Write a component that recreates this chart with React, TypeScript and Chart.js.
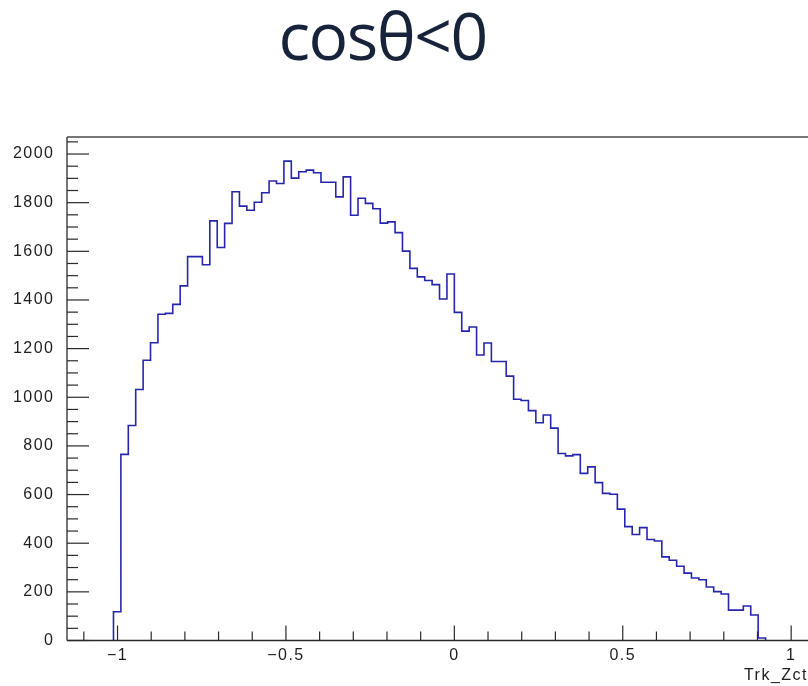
import React, { useEffect, useRef } from "react";
import { Chart, registerables } from "chart.js";

Chart.register(...registerables);

// ---- data ----
const TITLE = "cosθ<0";
const X_TITLE = "Trk_Zct";
const BIN_WIDTH = 0.022;
const FIRST_EDGE = -1.012;
const COUNTS = [
  118, 765, 884, 1032, 1152, 1224, 1341, 1345, 1382, 1458,
  1578, 1578, 1545, 1725, 1616, 1715, 1845, 1786, 1769, 1802,
  1841, 1889, 1879, 1971, 1901, 1927, 1934, 1923, 1884, 1884,
  1824, 1906, 1748, 1818, 1797, 1775, 1716, 1721, 1677, 1601,
  1530, 1495, 1480, 1463, 1404, 1507, 1349, 1272, 1289, 1174,
  1223, 1147, 1147, 1087, 992, 987, 945, 895, 927, 873,
  769, 759, 764, 687, 714, 649, 605, 601, 540, 468,
  436, 464, 415, 409, 344, 330, 305, 277, 257, 250,
  220, 201, 191, 125, 125, 142, 105, 10,
];
const X_MIN = -1.15;
const X_MAX = 1.05;
const Y_MIN = 0;
const Y_MAX = 2070;
const X_LABEL_TICKS = [-1, -0.5, 0, 0.5, 1];
const X_MINOR_TICKS = [-1.1, -1, -0.9, -0.8, -0.7, -0.6, -0.5, -0.4, -0.3, -0.2, -0.1, 0, 0.1, 0.2, 0.3, 0.4, 0.5, 0.6, 0.7, 0.8, 0.9, 1.0];
const Y_LABEL_TICKS = [0, 200, 400, 600, 800, 1000, 1200, 1400, 1600, 1800, 2000];
const Y_MINOR_STEP = 50;

const FONT = "'Liberation Sans', Arial, Helvetica, sans-serif";

function fmt(v: number): string {
  const r = Number(v.toFixed(3));
  if (r < 0) return "\u2212" + String(Math.abs(r));
  return String(r);
}

const frameTicks = {
  id: "frameTicks",
  beforeDraw(chart: any) {
    // ROOT's Helvetica labels are drawn a little wider than Liberation Sans
    (chart.ctx as any).letterSpacing = "1.5px";
  },
  afterDatasetsDraw(chart: any) {
    const { ctx, chartArea: a, scales } = chart;
    const x = scales.x;
    const y = scales.y;
    ctx.save();
    ctx.strokeStyle = "#2a2a2a";
    ctx.lineWidth = 1.3;
    const seg = (x1: number, y1: number, x2: number, y2: number) => {
      ctx.beginPath();
      ctx.moveTo(x1, y1);
      ctx.lineTo(x2, y2);
      ctx.stroke();
    };
    // frame: left, bottom, top
    seg(a.left, a.top, a.left, a.bottom);
    seg(a.left, a.bottom, a.right, a.bottom);
    ctx.strokeStyle = "#4a4a4a";
    seg(a.left, a.top, a.right, a.top);
    ctx.strokeStyle = "#2a2a2a";
    ctx.lineWidth = 1.2;
    // y ticks (inward)
    for (let v = Y_MIN; v <= Y_MAX; v += Y_MINOR_STEP) {
      const py = y.getPixelForValue(v);
      const major = Y_LABEL_TICKS.includes(v);
      seg(a.left, py, a.left + (major ? 22 : 11), py);
    }
    // x ticks (inward)
    for (const v of X_MINOR_TICKS) {
      const px = x.getPixelForValue(v);
      const major = X_LABEL_TICKS.some((t) => Math.abs(t - v) < 1e-6);
      seg(px, a.bottom, px, a.bottom - (major ? 15 : 9));
    }
    ctx.restore();
  },
};

export default function App() {
  const canvasRef = useRef<HTMLCanvasElement | null>(null);

  useEffect(() => {
    const canvas = canvasRef.current;
    if (!canvas) return;
    const points: { x: number; y: number }[] = [];
    points.push({ x: FIRST_EDGE, y: 0 });
    COUNTS.forEach((c, i) => points.push({ x: FIRST_EDGE + i * BIN_WIDTH, y: c }));
    points.push({ x: FIRST_EDGE + COUNTS.length * BIN_WIDTH, y: 0 });

    const chart = new Chart(canvas, {
      type: "line",
      data: {
        datasets: [
          {
            data: points,
            borderColor: "#2626ad",
            borderWidth: 1.6,
            pointRadius: 0,
            fill: false,
            stepped: true,
            tension: 0,
          },
        ],
      },
      options: {
        animation: false,
        responsive: false,
        devicePixelRatio: 1,
        layout: { padding: { top: 137, left: 0, right: 0, bottom: 0 } },
        plugins: {
          legend: { display: false },
          tooltip: { enabled: false },
          title: { display: false },
        },
        scales: {
          x: {
            type: "linear",
            min: X_MIN,
            max: X_MAX,
            grid: { display: false, drawTicks: false },
            border: { display: false },
            afterBuildTicks: (s: any) => {
              s.ticks = X_LABEL_TICKS.map((v) => ({ value: v }));
            },
            afterFit: (s: any) => {
              s.height = 45.5;
            },
            ticks: {
              autoSkip: false,
              maxRotation: 0,
              padding: 5,
              color: "#1e1e1e",
              font: { family: FONT, size: 16 },
              callback: (v: any) => fmt(Number(v)),
            },
            title: {
              display: true,
              text: X_TITLE,
              align: "end",
              color: "#1e1e1e",
              font: { family: FONT, size: 16 },
              padding: { top: 0, bottom: 1 },
            },
          },
          y: {
            type: "linear",
            min: Y_MIN,
            max: Y_MAX,
            grid: { display: false, drawTicks: false },
            border: { display: false },
            afterBuildTicks: (s: any) => {
              s.ticks = Y_LABEL_TICKS.map((v) => ({ value: v }));
            },
            afterFit: (s: any) => {
              s.width = 67;
            },
            ticks: {
              autoSkip: false,
              padding: 12.5,
              color: "#1e1e1e",
              font: { family: FONT, size: 16 },
              callback: (v: any) => String(v),
            },
          },
        },
      },
      plugins: [frameTicks],
    });
    return () => chart.destroy();
  }, []);

  return (
    <div style={{ position: "absolute", left: 0, top: 0, width: 808, height: 686, overflow: "hidden", background: "#fff" }}>
      <div
        style={{
          position: "absolute",
          left: 0,
          top: 1,
          width: 765,
          textAlign: "center",
          fontFamily: "'Open Sans', 'Noto Sans', sans-serif",
          fontSize: 66,
          lineHeight: "66px",
          letterSpacing: "-1.5px",
          color: "#17233a",
          whiteSpace: "nowrap",
        }}
      >
        {TITLE}
      </div>
      <canvas ref={canvasRef} width={808} height={686} style={{ display: "block" }} />
    </div>
  );
}
